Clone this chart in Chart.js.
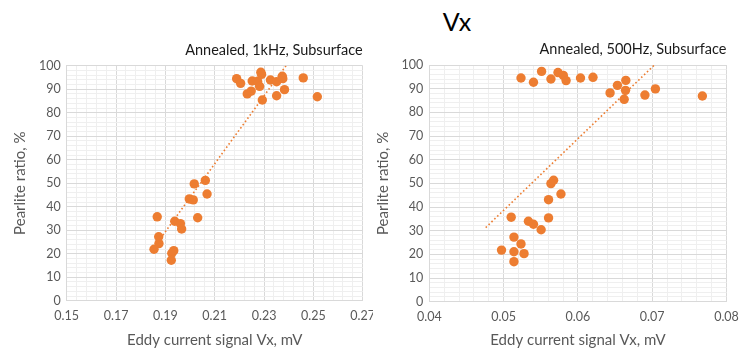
<!DOCTYPE html>
<html>
<head>
<meta charset="utf-8">
<script src="https://cdn.jsdelivr.net/npm/chart.js@4"></script>
<style>
  body { margin: 0; background: #fff; width: 747px; height: 353px; overflow: hidden; position: relative; font-family: Lato, sans-serif; }
  #title { position: absolute; left: 0; width: 914px; top: 6px; text-align: center; font-size: 25px; color: #000; }
  .box { position: absolute; top: 0; height: 353px; }
</style>
</head>
<body>
<div id="title">Vx</div>
<div class="box" style="left:0;width:373px"><canvas id="left"></canvas></div>
<div class="box" style="left:373px;width:374px"><canvas id="right"></canvas></div>
<script>
// 1kHz data
const vx1k = [0.2189, 0.2205, 0.2232, 0.2248, 0.2252, 0.2274, 0.2282, 0.2287, 0.2290, 0.2293, 0.2326, 0.2351, 0.2351, 0.2374, 0.2376, 0.2383, 0.2459, 0.2516,
  0.2062, 0.2017, 0.2069, 0.1997, 0.2013, 0.1867, 0.2031, 0.1938, 0.1961, 0.1966, 0.1873, 0.1874, 0.1854, 0.1934, 0.1926, 0.1924];
const pr1k = [94.5, 92.5, 88.0, 89.2, 93.5, 93.4, 91.2, 97.2, 96.3, 85.4, 93.9, 93.2, 87.2, 95.5, 94.5, 89.8, 94.8, 86.8,
  51.2, 49.7, 45.4, 43.3, 42.9, 35.7, 35.3, 33.8, 32.8, 30.5, 27.2, 24.3, 21.9, 21.3, 20.2, 17.2];
const trend1kX = [0.1880, 0.2389];
const trend1kY = [26.5, 100];

// 500Hz data
const vx500 = [0.05234, 0.05402, 0.05511, 0.05637, 0.05732, 0.05804, 0.05841, 0.06035, 0.06203, 0.06433, 0.06532, 0.06645, 0.06641, 0.06623, 0.06902, 0.07043, 0.07675,
  0.05673, 0.05637, 0.05772, 0.05605, 0.05102, 0.05605, 0.05334, 0.05402, 0.05505, 0.05139, 0.05234, 0.04972, 0.05139, 0.05275, 0.05139];
const pr500 = [94.5, 92.7, 97.3, 94.1, 96.8, 95.6, 93.4, 94.5, 94.8, 88.2, 91.4, 93.5, 89.3, 85.5, 87.3, 89.9, 86.9,
  51.3, 49.9, 45.5, 43.1, 35.7, 35.4, 34.0, 32.7, 30.4, 27.3, 24.4, 21.8, 21.1, 20.3, 16.9];
const trend500X = [0.04759, 0.07029];
const trend500Y = [31.3, 100];

// tick labels
const xTicks1k = ['0.15', '0.17', '0.19', '0.21', '0.23', '0.25', '0.27'];
const xTicks500 = ['0.04', '0.05', '0.06', '0.07', '0.08'];
const yTicks = ['0', '10', '20', '30', '40', '50', '60', '70', '80', '90', '100'];

const orange = '#ED7D31';
const grey = '#595959';

function pts(xs, ys) { return xs.map((x, i) => ({ x: x, y: ys[i] })); }

const subtitlePlugin = {
  id: 'subtitle',
  afterDraw(chart, args, opts) {
    const ctx = chart.ctx;
    ctx.save();
    ctx.font = '14.5px Lato';
    ctx.fillStyle = '#1a1a1a';
    ctx.textAlign = 'right';
    ctx.textBaseline = 'middle';
    ctx.fillText(opts.text, chart.chartArea.right, chart.chartArea.top - 15.5);
    ctx.restore();
  }
};

function makeChart(id, xs, ys, tx, ty, xMin, xMax, xStep, xLabels, layout) {
  new Chart(document.getElementById(id), {
    type: 'scatter',
    data: {
      datasets: [
        { data: pts(xs, ys), backgroundColor: orange, borderWidth: 0, pointRadius: 4.7, pointHoverRadius: 4.7 },
        { type: 'line', data: pts(tx, ty), borderColor: orange, borderWidth: 1.6, borderDash: [1.6, 2.4], pointRadius: 0, fill: false }
      ]
    },
    options: {
      responsive: true,
      maintainAspectRatio: false,
      animation: false,
      layout: { padding: layout.padding },
      plugins: { legend: { display: false }, tooltip: { enabled: false }, subtitle: { text: layout.subtitle } },
      scales: {
        x: {
          type: 'linear', min: xMin, max: xMax,
          afterFit: s => { s.height = layout.xHeight; s.paddingLeft = 0; s.paddingRight = 0; },
          ticks: {
            stepSize: xStep, autoSkip: false, maxRotation: 0, color: grey, font: { family: 'Lato', size: 12.5 }, padding: 8,
            callback: (v, i) => (i % 5 === 0 ? xLabels[i / 5] : '')
          },
          grid: { drawTicks: false, color: c => (c.index % 5 === 0 ? '#d9d9d9' : '#efefef'), lineWidth: 1 },
          border: { color: '#d9d9d9' },
          title: { display: true, text: 'Eddy current signal Vx, mV', color: grey, font: { family: 'Lato', size: 15 }, padding: { top: 0, bottom: 4 } }
        },
        y: {
          min: 0, max: 100,
          afterFit: s => { s.width = layout.yWidth; s.paddingTop = 0; s.paddingBottom = 0; },
          ticks: {
            stepSize: 2, autoSkip: false, color: grey, font: { family: 'Lato', size: 12.5 }, padding: 6,
            callback: (v, i) => (i % 5 === 0 ? yTicks[i / 5] : '')
          },
          grid: { drawTicks: false, color: c => (c.index % 5 === 0 ? '#d9d9d9' : '#efefef'), lineWidth: 1 },
          border: { color: '#d9d9d9' },
          title: { display: true, text: 'Pearlite ratio, %', color: grey, font: { family: 'Lato', size: 15 }, padding: { top: layout.yTitlePad, bottom: 0 } }
        }
      }
    },
    plugins: [subtitlePlugin]
  });
}

makeChart('left', vx1k, pr1k, trend1kX, trend1kY, 0.15, 0.27, 0.004, xTicks1k,
  { padding: { left: 0, right: 10.3, top: 65.7, bottom: 0 }, xHeight: 52.3, yWidth: 66.7, yTitlePad: 11, subtitle: 'Annealed, 1kHz, Subsurface' });
makeChart('right', vx500, pr500, trend500X, trend500Y, 0.04, 0.08, 0.002, xTicks500,
  { padding: { left: 0, right: 20.5, top: 65, bottom: 0 }, xHeight: 51.3, yWidth: 56.3, yTitlePad: 1, subtitle: 'Annealed, 500Hz, Subsurface' });
</script>
</body>
</html>
